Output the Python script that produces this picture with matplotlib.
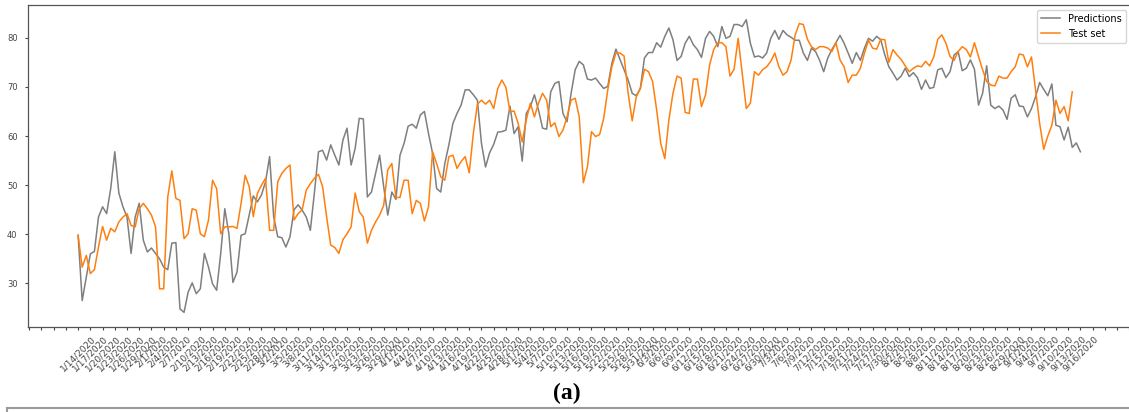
import numpy as np
import pandas as pd
import matplotlib
matplotlib.use("Agg")
import matplotlib.pyplot as plt
from matplotlib.patches import Rectangle

# dates of the series (daily, 1/14/2020 -> 9/16/2020)
start_date = "2020-01-14"
end_date = "2020-09-16"

# predictions (one value per day)
predictions = [
    39.8, 26.5, 31.3, 36.0, 36.5, 43.5, 45.6, 44.2, 49.3, 56.8,
    48.4, 45.6, 43.5, 36.1, 43.5, 46.3, 38.8, 36.4, 37.2, 36.1,
    35.0, 33.3, 32.8, 38.2, 38.3, 24.8, 24.1, 28.2, 30.1, 27.9,
    28.9, 36.1, 33.3, 29.9, 28.6, 36.1, 45.2, 40.1, 30.2, 32.3,
    39.8, 40.1, 43.9, 47.8, 46.6, 48.0, 50.7, 55.8, 43.5, 39.5,
    39.3, 37.4, 39.5, 45.0, 46.0, 44.9, 43.5, 40.8, 48.5, 56.8,
    57.1, 55.1, 58.2, 56.1, 54.1, 59.2, 61.6, 54.1, 57.5, 63.6,
    63.5, 47.6, 48.6, 52.4, 56.1, 49.7, 43.9, 48.6, 47.1, 56.1,
    58.5, 62.0, 62.4, 61.6, 64.3, 65.0, 60.5, 56.5, 49.3, 48.6,
    54.4, 58.2, 62.6, 64.6, 66.3, 69.4, 69.4, 68.4, 67.3, 58.5,
    53.7, 56.6, 58.3, 60.8, 60.9, 61.2, 66.1, 60.5, 61.9, 54.9,
    64.6, 66.0, 68.4, 65.3, 61.6, 61.4, 69.0, 70.7, 71.1, 64.6,
    62.9, 68.7, 73.5, 75.2, 74.5, 71.6, 71.4, 71.8, 70.7, 69.7,
    70.1, 74.8, 77.7, 75.6, 73.5, 71.4, 68.7, 68.2, 69.7, 75.9,
    77.0, 77.0, 79.0, 78.1, 80.3, 82.0, 79.6, 75.4, 76.2, 78.9,
    80.3, 78.6, 77.6, 76.0, 79.9, 81.3, 80.3, 78.2, 82.3, 79.9,
    80.3, 82.7, 82.7, 82.3, 83.7, 78.9, 76.1, 76.3, 75.9, 76.9,
    79.9, 81.5, 79.7, 81.5, 80.6, 80.1, 79.5, 79.5, 76.9, 75.4,
    77.9, 77.2, 75.4, 73.1, 75.9, 77.6, 79.0, 80.5, 78.9, 76.9,
    74.8, 77.0, 75.4, 77.9, 79.9, 79.3, 80.3, 79.6, 76.5, 74.1,
    72.8, 71.4, 72.2, 73.8, 72.1, 72.9, 71.9, 69.5, 71.4, 69.7,
    69.9, 73.5, 73.8, 71.9, 73.1, 76.5, 77.2, 73.3, 73.8, 75.5,
    73.6, 66.3, 68.7, 74.3, 66.3, 65.6, 66.1, 65.3, 63.4, 67.7,
    68.4, 66.1, 66.0, 63.9, 65.6, 68.0, 70.9, 69.5, 68.2, 70.6,
    62.2, 61.9, 59.2, 61.8, 57.7, 58.6, 56.8,
]

# test set (one value per day, ends two days earlier)
test_set = [
    39.8, 33.3, 35.7, 32.0, 32.8, 37.4, 41.6, 38.8, 41.2, 40.5,
    42.5, 43.5, 44.2, 41.8, 41.5, 45.2, 46.3, 45.2, 43.9, 41.5,
    28.9, 28.9, 47.6, 52.9, 47.3, 46.9, 39.1, 40.1, 45.2, 44.9,
    40.1, 39.5, 42.9, 51.0, 49.3, 40.1, 41.5, 41.5, 41.6, 41.2,
    46.3, 52.0, 49.7, 43.6, 48.3, 50.0, 51.4, 40.8, 40.8, 50.7,
    52.4, 53.4, 54.1, 42.9, 44.2, 45.0, 49.0, 50.3, 51.4, 52.2,
    49.7, 43.5, 37.8, 37.3, 36.1, 38.9, 40.1, 41.5, 48.4, 44.6,
    43.5, 38.2, 40.8, 42.5, 43.9, 45.9, 53.1, 54.4, 47.5, 47.5,
    51.0, 51.0, 44.2, 46.9, 46.3, 42.7, 45.6, 56.8, 54.4, 51.7,
    51.0, 55.8, 56.1, 53.4, 54.8, 55.8, 52.5, 60.5, 66.5, 67.3,
    66.5, 67.3, 65.6, 69.7, 71.4, 69.9, 65.0, 65.1, 62.6, 58.8,
    63.3, 66.7, 63.9, 66.7, 68.7, 67.3, 61.9, 62.7, 59.9, 61.2,
    63.9, 67.3, 67.7, 63.9, 50.5, 53.7, 60.9, 59.9, 60.3, 63.6,
    69.4, 74.1, 76.9, 76.9, 76.3, 68.7, 63.1, 68.0, 69.7, 73.6,
    73.1, 71.1, 65.3, 58.5, 55.4, 63.3, 68.7, 72.2, 71.8, 64.8,
    64.6, 71.6, 71.6, 66.0, 68.4, 74.5, 77.6, 79.0, 79.0, 78.2,
    72.2, 73.6, 79.9, 72.8, 65.6, 66.7, 73.1, 72.4, 73.5, 74.1,
    75.2, 76.9, 74.1, 72.4, 73.1, 75.5, 80.6, 82.9, 82.7, 79.7,
    78.2, 77.6, 78.2, 78.2, 77.9, 77.2, 79.0, 75.5, 74.1, 70.9,
    72.4, 72.4, 73.8, 76.9, 79.5, 77.9, 77.7, 79.7, 79.6, 75.0,
    77.6, 76.5, 75.6, 74.3, 73.1, 73.8, 74.3, 74.1, 75.2, 74.3,
    76.1, 79.7, 80.6, 78.9, 76.2, 75.4, 77.2, 78.2, 77.6, 76.1,
    79.0, 76.2, 73.5, 71.1, 70.4, 70.2, 72.2, 71.8, 71.8, 73.1,
    74.1, 76.7, 76.5, 74.1, 76.1, 69.4, 62.6, 57.3, 60.0, 62.2,
    67.3, 64.6, 66.0, 63.1, 69.0,
]

dates = pd.date_range(start_date, end_date, freq="D")
date_labels = [f"{d.month}/{d.day}/{d.year}" for d in dates]

x_pred = np.arange(len(predictions))
x_test = np.arange(len(test_set))

fig = plt.figure(figsize=(11.29, 4.12), dpi=100)
W, H = 1129, 412
ax = fig.add_axes([28 / W, (H - 327) / H, (1130.5 - 28) / W, 322 / H])

ax.plot(x_pred, predictions, color="tab:gray", lw=1.1, label="Predictions")
ax.plot(x_test, test_set, color="tab:orange", lw=1.1, label="Test set")

# ticks every 3 days, labels only where there is a date
tick_pos = np.arange(-12, 259, 3)
tick_lab = [date_labels[i] if 0 <= i < len(date_labels) else "" for i in tick_pos]
ax.set_xticks(tick_pos)
ax.set_xticklabels(tick_lab, rotation=45, fontsize=6.5, color="#333333")
ax.set_yticks([30, 40, 50, 60, 70, 80])
ax.tick_params(axis="y", labelsize=6, labelcolor="#333333", length=2.5, pad=5)
ax.tick_params(axis="x", length=2.5, pad=3)
ax.tick_params(colors="#444444", which="both")
for s in ax.spines.values():
    s.set_color("#555555")
    s.set_linewidth(0.9)

ax.legend(loc="upper right", fontsize=7)

# panel caption
fig.text(567 / W, 1 - 393 / H, "(a)", ha="center", va="center",
         fontsize=17, fontweight="bold", family="Liberation Serif")

# top of the next panel frame
fig.patches.append(Rectangle((7 / W, -0.1), 1.2, 0.1 + (H - 408) / H,
                             transform=fig.transFigure, fill=False,
                             edgecolor="#9a9a9a", linewidth=1.5))

fig.savefig("out.png", dpi=100)
